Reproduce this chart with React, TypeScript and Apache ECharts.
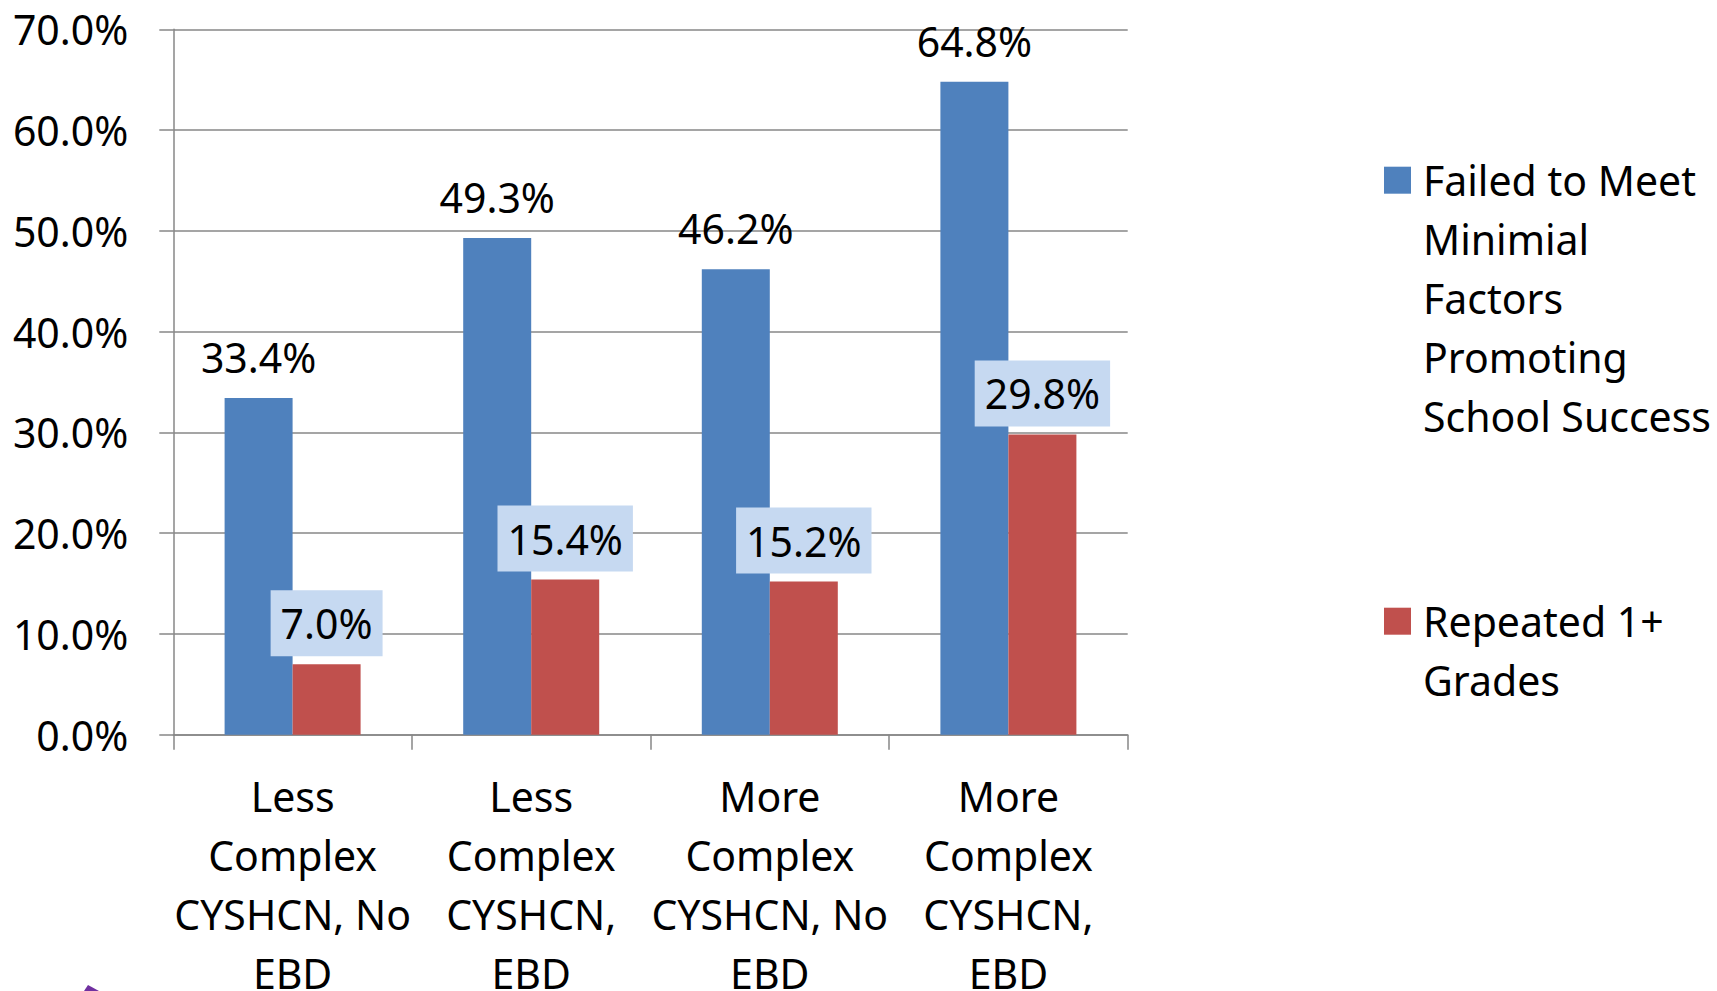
import React, { useEffect, useRef } from "react";
import * as echarts from "echarts";

const categories = [
  "Less Complex CYSHCN, No EBD",
  "Less Complex CYSHCN, EBD",
  "More Complex CYSHCN, No EBD",
  "More Complex CYSHCN, EBD",
];
const categoryLabels = [
  "Less\nComplex\nCYSHCN, No\nEBD",
  "Less\nComplex\nCYSHCN,\nEBD",
  "More\nComplex\nCYSHCN, No\nEBD",
  "More\nComplex\nCYSHCN,\nEBD",
];
const seriesNames = ["Failed to Meet Minimial Factors Promoting School Success", "Repeated 1+ Grades"];
const legendLines = [
  ["Failed to Meet", "Minimial", "Factors", "Promoting", "School Success"],
  ["Repeated 1+", "Grades"],
];
const failedValues = [33.4, 49.3, 46.2, 64.8];
const repeatedValues = [7.0, 15.4, 15.2, 29.8];
const yMin = 0;
const yMax = 70;
const yInterval = 10;

const FONT = "'Noto Sans', 'Open Sans', sans-serif";
const FS = 41;
const LH = 59;
const AXIS_COLOR = "#878787";

// legend text: the item's icon is centred on the text block, so pad the block
// with leading empty lines so that the icon sits beside the first line
const legendText = (lines: string[]) =>
  "\n".repeat(lines.length - 1) + lines.join("\n");

export default function App() {
  const ref = useRef<HTMLDivElement>(null);
  useEffect(() => {
    document.body.style.margin = "0";
    const chart = echarts.init(ref.current!, undefined, { renderer: "svg" });
    const pct = (v: number) => v.toFixed(1) + "%";
    const labelBase = {
      show: true,
      position: "top",
      distance: 8,
      fontFamily: FONT,
      fontSize: FS,
      lineHeight: 48,
      padding: [9, 10],
      color: "#000",
      formatter: (p: any) => pct(p.value),
    };
    const legendBox = (i: number, iconCenterY: number) => {
      const n = legendLines[i].length * 2 - 1;
      return {
        data: [seriesNames[i]],
        left: 1384,
        top: iconCenterY - (n * LH) / 2,
        padding: 0,
        itemWidth: 27,
        itemHeight: 27,
        icon: "rect",
        selectedMode: false,
        formatter: () => legendText(legendLines[i]),
        textStyle: {
          fontFamily: FONT,
          fontSize: FS,
          lineHeight: LH,
          color: "#000",
          padding: [0, 0, 0, 7],
        },
      };
    };
    chart.setOption({
      animation: false,
      backgroundColor: "#fff",
      grid: {
        left: 173.3,
        right: 589.3,
        top: 29.3,
        bottom: 256.3,
        containLabel: false,
        outerBoundsMode: "none",
      },
      xAxis: {
        type: "category",
        data: categories,
        axisLine: { show: true, lineStyle: { color: AXIS_COLOR, width: 1.5 } },
        axisTick: { show: true, alignWithLabel: false, length: 15, lineStyle: { color: AXIS_COLOR, width: 1.5 } },
        axisLabel: {
          margin: 32,
          fontFamily: FONT,
          fontSize: FS,
          lineHeight: LH,
          color: "#000",
          interval: 0,
          formatter: (v: string) => categoryLabels[categories.indexOf(v)],
        },
        splitLine: { show: false },
      },
      yAxis: {
        type: "value",
        min: yMin,
        max: yMax,
        interval: yInterval,
        axisLine: { show: true, lineStyle: { color: AXIS_COLOR, width: 1.5 } },
        axisTick: { show: true, length: 14, lineStyle: { color: AXIS_COLOR, width: 1.5 } },
        axisLabel: {
          margin: 45,
          fontFamily: FONT,
          fontSize: FS,
          color: "#000",
          formatter: (v: number) => pct(v),
        },
        splitLine: { show: true, lineStyle: { color: AXIS_COLOR, width: 1.5 } },
      },
      legend: [legendBox(0, 180.2), legendBox(1, 621.2)],
      graphic: [
        {
          type: "polygon",
          shape: { points: [[84, 991], [88, 985], [99, 991]] },
          style: { fill: "#7030A0" },
          silent: true,
        },
      ],
      series: [
        {
          name: seriesNames[0],
          type: "bar",
          data: failedValues,
          barWidth: 68,
          barGap: "0%",
          itemStyle: { color: "#4F81BD" },
          label: { ...labelBase },
        },
        {
          name: seriesNames[1],
          type: "bar",
          data: repeatedValues,
          barWidth: 68,
          barGap: "0%",
          itemStyle: { color: "#C0504D" },
          label: { ...labelBase, backgroundColor: "#C6D9F1" },
        },
      ],
    });
    return () => chart.dispose();
  }, []);
  return (
    <div
      ref={ref}
      style={{ position: "fixed", left: 0, top: 0, width: 1717, height: 991 }}
    />
  );
}
